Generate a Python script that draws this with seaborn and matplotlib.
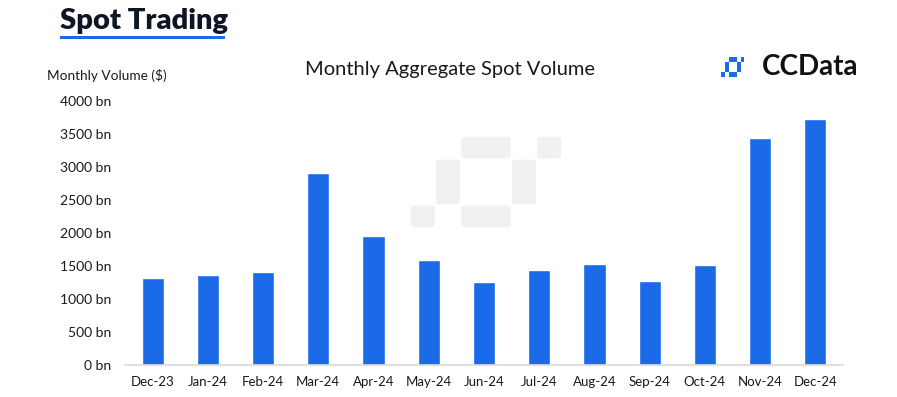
import matplotlib
matplotlib.use("Agg")
import matplotlib.pyplot as plt
from matplotlib.patches import FancyBboxPatch, Rectangle
from matplotlib.ticker import FuncFormatter
import seaborn as sns
import pandas as pd

# Data (billions USD)
months = ["Dec-23", "Jan-24", "Feb-24", "Mar-24", "Apr-24", "May-24", "Jun-24",
          "Jul-24", "Aug-24", "Sep-24", "Oct-24", "Nov-24", "Dec-24"]
volume = [1314, 1364, 1404, 2904, 1955, 1591, 1263, 1439, 1530, 1276, 1508, 3444, 3727]
yticks = [0, 500, 1000, 1500, 2000, 2500, 3000, 3500, 4000]

df = pd.DataFrame({"month": months, "volume": volume})

sns.set_theme(style="white")
plt.rcParams["font.family"] = ["Lato", "DejaVu Sans"]

BLUE = "#1b6be9"
TEXT = "#1a1a1a"
W, H = 897, 397

fig = plt.figure(figsize=(8.97, 3.97), dpi=100)
fig.patch.set_facecolor("white")


def fx(px):
    return px / W


def fy(py):
    return 1 - py / H


# pixel-block logo, used as watermark and as the brand icon
def logo(x0, y0, u, v, color, z, inset=1.0, rounded=True):
    blocks = [(2, 0, 2, 1), (5, 0, 1, 1), (1, 1, 1, 2), (4, 1, 1, 2), (0, 3, 1, 1), (2, 3, 2, 1)]
    for c, r, w, h in blocks:
        left = x0 + c * u + inset
        top = y0 + r * v + inset
        bw = w * u - 2 * inset
        bh = h * v - 2 * inset
        if rounded:
            p = FancyBboxPatch((fx(left), fy(top + bh)), fx(bw), bh / H,
                               boxstyle="round,pad=0,rounding_size=0.006",
                               transform=fig.transFigure, facecolor=color,
                               edgecolor="none", zorder=z)
        else:
            p = Rectangle((fx(left), fy(top + bh)), fx(bw), bh / H,
                          transform=fig.transFigure, facecolor=color,
                          edgecolor="none", zorder=z)
        fig.patches.append(p)


logo(410, 136, 25.3, 23, "#f1f1f1", -1, inset=0.6)

ax = fig.add_axes([fx(125), fy(365), fx(843) - fx(125), (365 - 101) / H])
ax.patch.set_alpha(0)

sns.barplot(data=df, x="month", y="volume", color=BLUE, width=0.4, saturation=1, ax=ax)

ax.set_ylim(0, 4000)
ax.set_xlim(-0.5, len(months) - 0.5)
ax.set_yticks(yticks)
ax.yaxis.set_major_formatter(FuncFormatter(lambda v, p: f"{v:.0f} bn"))
ax.set_xlabel("")
ax.set_ylabel("")
ax.tick_params(axis="y", length=0, pad=10, labelsize=10, labelcolor=TEXT)
ax.tick_params(axis="x", length=0, pad=8, labelsize=9.5, labelcolor=TEXT)
for s in ["top", "right", "left"]:
    ax.spines[s].set_visible(False)
ax.spines["bottom"].set_color("#d9d9d9")
ax.spines["bottom"].set_linewidth(1.2)

# headings
fig.text(fx(60), fy(21), "Spot Trading", fontsize=21, fontweight="heavy",
         color="#0d1526", ha="left", va="center")
fig.patches.append(Rectangle((fx(60), fy(39)), fx(165), 3 / H, transform=fig.transFigure,
                             facecolor=BLUE, edgecolor="none"))
fig.text(fx(450), fy(70), "Monthly Aggregate Spot Volume", fontsize=14.5,
         color=TEXT, ha="center", va="center")
fig.text(fx(47), fy(75), "Monthly Volume ($)", fontsize=9.8, color=TEXT,
         ha="left", va="center")

# CCData brand
logo(721, 57, 3.9, 5, BLUE, 3, inset=0, rounded=False)
fig.text(fx(762), fy(67), "CCData", fontsize=20, fontweight="bold", color="#111111",
         ha="left", va="center")

fig.savefig("out.png", dpi=100, facecolor="white")
